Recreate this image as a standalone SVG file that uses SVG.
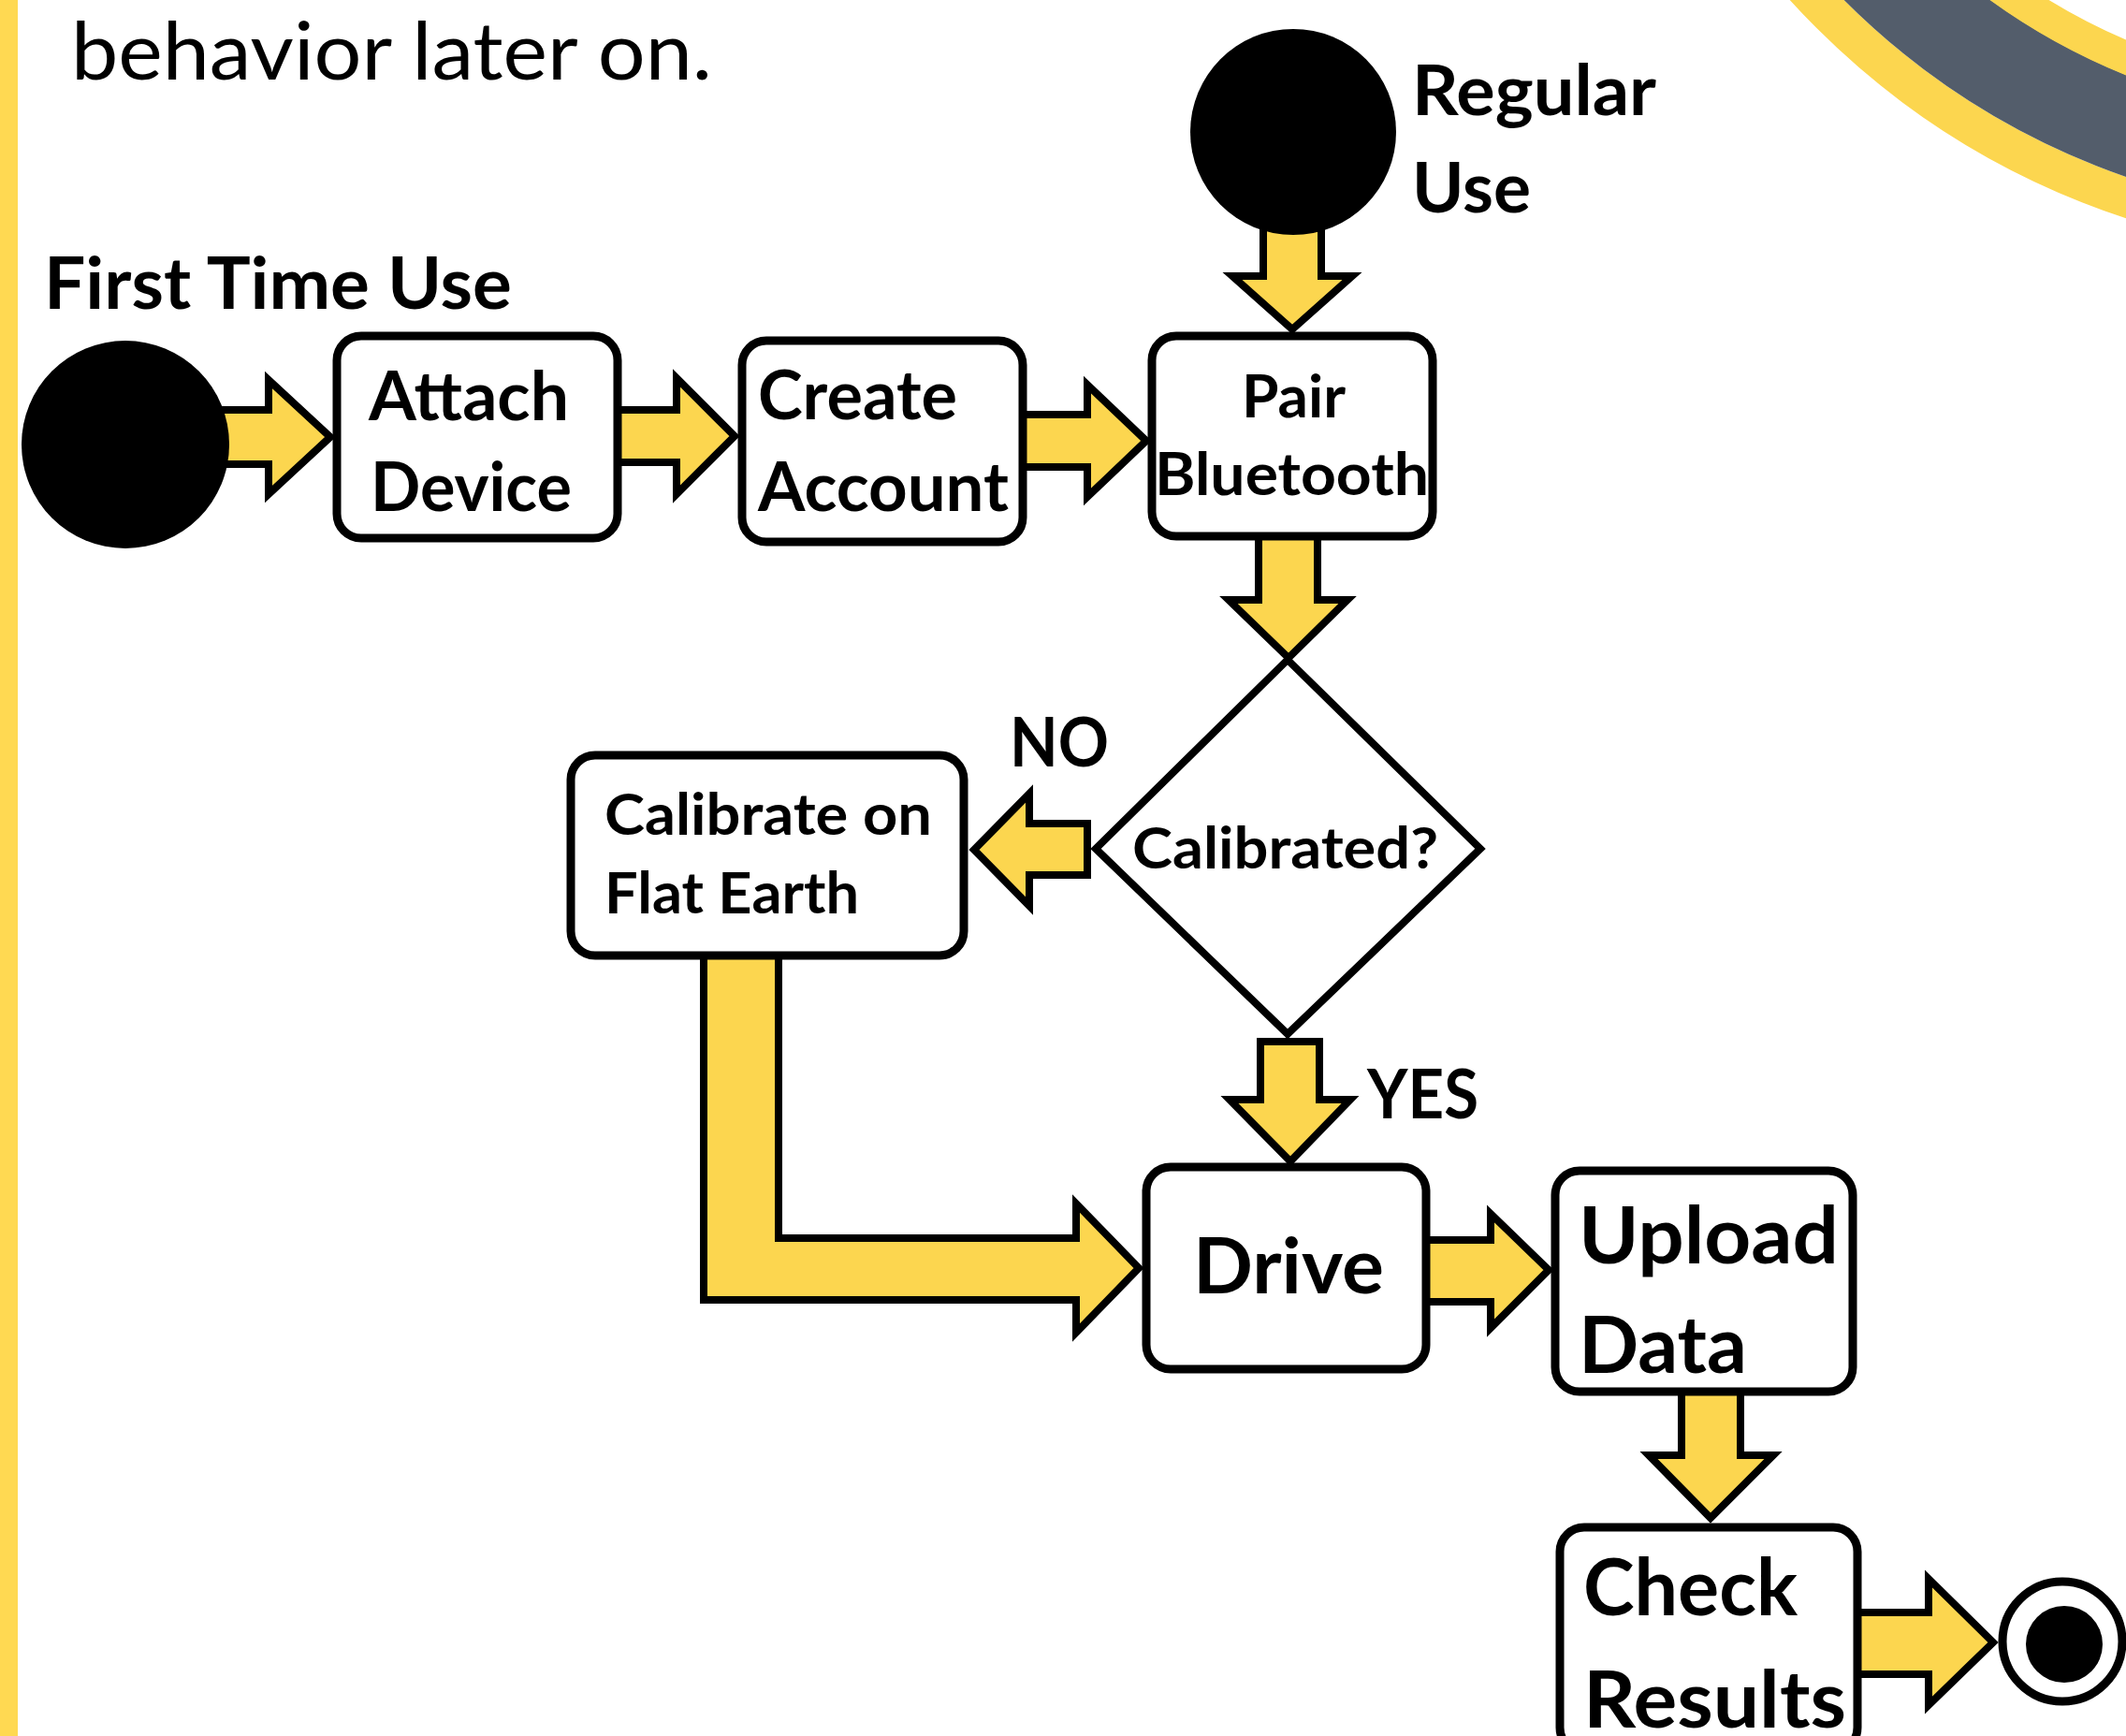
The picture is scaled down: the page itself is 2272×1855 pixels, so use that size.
<svg xmlns="http://www.w3.org/2000/svg" width="2272" height="1855" viewBox="0 0 2272 1855">
<style>
.t{font-family:Lato,"Open Sans","Liberation Sans",sans-serif;fill:#000;}
.b{font-weight:bold;}
.node{fill:#fff;stroke:#000;stroke-width:9;}
.arr{fill:#FCD64F;stroke:#000;stroke-width:8;stroke-linejoin:miter;stroke-miterlimit:10;}
</style>
<rect width="2272" height="1855" fill="#fff"/>
<g id="decoration">
<rect x="0" y="0" width="19" height="1855" fill="#FFD952"/>
<circle cx="2533" cy="-562" r="816" fill="none" stroke="#FCD64F" stroke-width="42"/>
<circle cx="2533" cy="-562" r="744" fill="none" stroke="#535D6B" stroke-width="102"/>
<circle cx="2533" cy="-562" r="676" fill="none" stroke="#FCD64F" stroke-width="35"/>
</g>
<text id="intro" class="t" x="76" y="85" font-size="86" textLength="685" lengthAdjust="spacingAndGlyphs">behavior later on.</text>
<g id="connectors">
<polygon class="arr" points="200,438 287,438 287,406 353,467 287,528 287,496 200,496"/>
<polygon class="arr" points="650,438 723,438 723,404 785,466 723,528 723,494 650,494"/>
<polygon class="arr" points="1085,443 1162,443 1162,411 1225,471 1162,531 1162,499 1085,499"/>
<polygon class="arr" points="1350,200 1350,295 1317,295 1381,352 1445,295 1412,295 1412,200"/>
<polygon class="arr" points="1345,570 1345,641 1313,641 1377,703 1440,641 1408,641 1408,570"/>
<polygon class="arr" points="1162,880 1100,880 1100,848 1041,908 1100,968 1100,935 1162,935"/>
<polygon class="arr" points="1347,1113 1347,1175 1314,1175 1379,1241 1443,1175 1410,1175 1410,1113"/>
<polygon class="arr" points="752,1010 832,1010 832,1323 1150,1323 1150,1286 1217,1355 1150,1424 1150,1389 752,1389"/>
<polygon class="arr" points="1515,1325 1593,1325 1593,1297 1655,1357 1593,1419 1593,1391 1515,1391"/>
<polygon class="arr" points="1797,1480 1797,1555 1762,1555 1828,1622 1895,1555 1860,1555 1860,1480"/>
<polygon class="arr" points="1975,1723 2061,1723 2061,1687 2130,1755 2061,1822 2061,1789 1975,1789"/>
</g>
<g id="start-first">
<circle cx="134" cy="475" r="111" fill="#000"/>
<text class="t b" x="47" y="330" font-size="76" textLength="500" lengthAdjust="spacingAndGlyphs">First Time Use</text>
</g>
<g id="start-regular">
<circle cx="1382" cy="141" r="110" fill="#000"/>
<text class="t b" x="1509" y="123" font-size="75" textLength="261" lengthAdjust="spacingAndGlyphs">Regular</text>
<text class="t b" x="1509" y="227" font-size="75" textLength="127" lengthAdjust="spacingAndGlyphs">Use</text>
</g>
<g id="attach">
<rect class="node" x="360" y="359" width="300" height="216" rx="26"/>
<text class="t b" x="394" y="449" font-size="72" textLength="214" lengthAdjust="spacingAndGlyphs">Attach</text>
<text class="t b" x="396" y="546" font-size="72" textLength="215" lengthAdjust="spacingAndGlyphs">Device</text>
</g>
<g id="create">
<rect class="node" x="793" y="364" width="300" height="215" rx="26"/>
<text class="t b" x="810" y="448" font-size="72" textLength="213" lengthAdjust="spacingAndGlyphs">Create</text>
<text class="t b" x="810" y="546" font-size="72" textLength="268" lengthAdjust="spacingAndGlyphs">Account</text>
</g>
<g id="pair">
<rect class="node" x="1231" y="359" width="300" height="214" rx="26"/>
<text class="t b" x="1327" y="446" font-size="63" textLength="111" lengthAdjust="spacingAndGlyphs">Pair</text>
<text class="t b" x="1234" y="529" font-size="63" textLength="293" lengthAdjust="spacingAndGlyphs">Bluetooth</text>
</g>
<g id="decision">
<polygon points="1376,705 1582,907 1376,1105 1171,907" fill="#fff" stroke="#000" stroke-width="8"/>
<text class="t b" x="1210" y="928" font-size="62" textLength="327" lengthAdjust="spacingAndGlyphs">Calibrated?</text>
</g>
<g id="label-no">
<text class="t b" x="1079" y="819" font-size="72" textLength="106" lengthAdjust="spacingAndGlyphs">NO</text>
</g>
<g id="label-yes">
<text class="t b" x="1461" y="1195" font-size="72" textLength="119" lengthAdjust="spacingAndGlyphs">YES</text>
</g>
<g id="calibrate">
<rect class="node" x="610" y="807" width="420" height="214" rx="26"/>
<text class="t b" x="646" y="892" font-size="62" textLength="350" lengthAdjust="spacingAndGlyphs">Calibrate on</text>
<text class="t b" x="646" y="976" font-size="62" textLength="272" lengthAdjust="spacingAndGlyphs">Flat Earth</text>
</g>
<g id="drive">
<rect class="node" x="1225" y="1247" width="299" height="216" rx="26"/>
<text class="t b" x="1275" y="1382" font-size="82" textLength="204" lengthAdjust="spacingAndGlyphs">Drive</text>
</g>
<g id="upload">
<rect class="node" x="1662" y="1251" width="318" height="236" rx="26"/>
<text class="t b" x="1687" y="1350" font-size="84" textLength="278" lengthAdjust="spacingAndGlyphs">Upload</text>
<text class="t b" x="1687" y="1467" font-size="84" textLength="180" lengthAdjust="spacingAndGlyphs">Data</text>
</g>
<g id="check">
<rect class="node" x="1667" y="1632" width="318" height="240" rx="26"/>
<text class="t b" x="1692" y="1726" font-size="84" textLength="229" lengthAdjust="spacingAndGlyphs">Check</text>
<text class="t b" x="1692" y="1846" font-size="84" textLength="281" lengthAdjust="spacingAndGlyphs">Results</text>
</g>
<g id="end">
<circle cx="2204" cy="1754" r="64" fill="#fff" stroke="#000" stroke-width="9"/>
<circle cx="2206" cy="1757" r="41" fill="#000"/>
</g>
</svg>
